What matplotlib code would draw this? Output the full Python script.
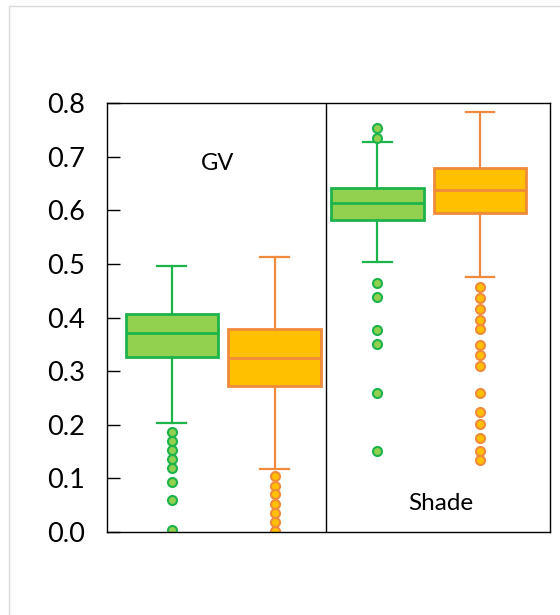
import matplotlib
matplotlib.use("Agg")
import matplotlib.pyplot as plt
from matplotlib.patches import Rectangle

# Data
groups = ["GV", "Shade"]
positions = [1, 2, 3, 4]
series = ["green", "orange", "green", "orange"]

whislo = [0.203, 0.117, 0.503, 0.475]
q1 = [0.326, 0.273, 0.582, 0.594]
med = [0.372, 0.324, 0.613, 0.638]
q3 = [0.406, 0.378, 0.642, 0.678]
whishi = [0.496, 0.512, 0.728, 0.783]
fliers = [
    [0.187, 0.170, 0.153, 0.136, 0.119, 0.093, 0.060, 0.004],
    [0.104, 0.086, 0.070, 0.053, 0.036, 0.019, 0.002],
    [0.753, 0.734, 0.464, 0.438, 0.377, 0.350, 0.260, 0.151],
    [0.456, 0.436, 0.415, 0.395, 0.378, 0.349, 0.331, 0.310, 0.260,
     0.224, 0.201, 0.175, 0.151, 0.134],
]
yticks = [0.0, 0.1, 0.2, 0.3, 0.4, 0.5, 0.6, 0.7, 0.8]
ytick_labels = ["0.0", "0.1", "0.2", "0.3", "0.4", "0.5", "0.6", "0.7", "0.8"]

fills = {"green": "#92D050", "orange": "#FFC000"}
edges = {"green": "#1DB34B", "orange": "#F08A3C"}

plt.rcParams["font.family"] = ["Lato", "DejaVu Sans"]

fig = plt.figure(figsize=(5.6, 6.15), dpi=100)
fig.patch.set_facecolor("white")
fig.add_artist(Rectangle((9 / 560, -0.01), 1.0, 1 - 6 / 615 + 0.01,
                         transform=fig.transFigure, fill=False,
                         edgecolor="#d9d9d9", lw=1))

ax = fig.add_axes([107 / 560, 1 - 532 / 615, (550 - 107) / 560, (532 - 103) / 615])

for i in range(4):
    s = series[i]
    stats = [dict(whislo=whislo[i], q1=q1[i], med=med[i], q3=q3[i],
                  whishi=whishi[i], fliers=fliers[i])]
    ax.bxp(stats, positions=[positions[i]], widths=0.9, capwidths=0.28,
           patch_artist=True, manage_ticks=False,
           boxprops=dict(facecolor=fills[s], edgecolor=edges[s], linewidth=2),
           medianprops=dict(color=edges[s], linewidth=2),
           whiskerprops=dict(color=edges[s], linewidth=1.6),
           capprops=dict(color=edges[s], linewidth=1.6),
           flierprops=dict(marker="o", markerfacecolor=fills[s],
                           markeredgecolor=edges[s], markersize=6.5,
                           markeredgewidth=1.5, linestyle="none"))

ax.set_xlim(0.37, 4.68)
ax.set_ylim(0.0, 0.8)
ax.axvline(2.505, color="black", lw=1)
ax.set_xticks([])
ax.set_yticks(yticks)
ax.set_yticklabels(ytick_labels, fontsize=19.5)
ax.tick_params(axis="y", direction="in", length=9, width=1, pad=16, colors="black")
for sp in ax.spines.values():
    sp.set_color("black")
    sp.set_linewidth(1)

ax.text(1.45, 0.688, groups[0], fontsize=17, ha="center", va="center")
ax.text(3.62, 0.054, groups[1], fontsize=17.5, ha="center", va="center")

fig.savefig("out.png", dpi=100)
